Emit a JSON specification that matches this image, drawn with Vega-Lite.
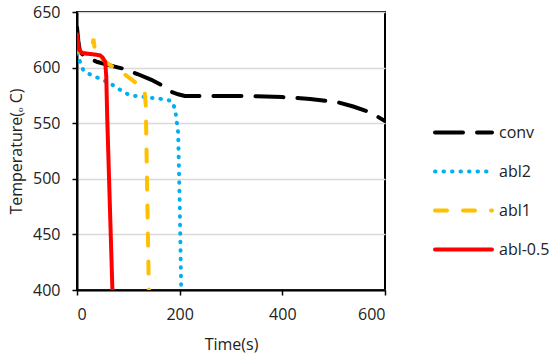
{
  "$schema": "https://vega.github.io/schema/vega-lite/v6.json",
  "width": 308,
  "height": 278,
  "autosize": {"type": "none"},
  "padding": {"left": 77, "top": 12, "right": 164, "bottom": 72},
  "background": "white",
  "config": {
    "font": "Open Sans",
    "view": {"stroke": "black", "strokeWidth": 2},
    "axis": {"labelFont": "Open Sans", "titleFont": "Open Sans", "labelFontSize": 16, "titleFontSize": 16, "titleFontWeight": "normal", "labelColor": "#222", "titleColor": "#222", "domainColor": "black", "domainWidth": 2, "tickColor": "black", "tickWidth": 1.5, "tickSize": 5, "gridColor": "#d9d9d9", "gridWidth": 1.5}
  },
  "data": {"values": [
    {"series": "conv", "t": 0, "T": 636},
    {"series": "conv", "t": 3, "T": 622},
    {"series": "conv", "t": 6, "T": 614},
    {"series": "conv", "t": 15, "T": 610},
    {"series": "conv", "t": 40, "T": 605},
    {"series": "conv", "t": 64, "T": 602},
    {"series": "conv", "t": 90, "T": 599},
    {"series": "conv", "t": 119, "T": 594},
    {"series": "conv", "t": 145, "T": 589},
    {"series": "conv", "t": 170, "T": 583},
    {"series": "conv", "t": 185, "T": 578},
    {"series": "conv", "t": 197, "T": 576},
    {"series": "conv", "t": 210, "T": 574.5},
    {"series": "conv", "t": 300, "T": 574.5},
    {"series": "conv", "t": 350, "T": 574.3},
    {"series": "conv", "t": 400, "T": 573.5},
    {"series": "conv", "t": 454, "T": 571.8},
    {"series": "conv", "t": 509, "T": 568.7},
    {"series": "conv", "t": 538, "T": 565},
    {"series": "conv", "t": 570, "T": 560},
    {"series": "conv", "t": 600, "T": 552},
    {"series": "abl2", "t": 0, "T": 613},
    {"series": "abl2", "t": 6, "T": 605},
    {"series": "abl2", "t": 12, "T": 598},
    {"series": "abl2", "t": 20, "T": 595},
    {"series": "abl2", "t": 40, "T": 591},
    {"series": "abl2", "t": 64, "T": 586},
    {"series": "abl2", "t": 80, "T": 581},
    {"series": "abl2", "t": 103, "T": 575},
    {"series": "abl2", "t": 126, "T": 574},
    {"series": "abl2", "t": 150, "T": 572.5},
    {"series": "abl2", "t": 170, "T": 571.5},
    {"series": "abl2", "t": 184, "T": 570},
    {"series": "abl2", "t": 191, "T": 563},
    {"series": "abl2", "t": 197, "T": 542},
    {"series": "abl2", "t": 200, "T": 480},
    {"series": "abl2", "t": 203, "T": 400},
    {"series": "abl1", "t": 0, "T": 617},
    {"series": "abl1", "t": 5, "T": 614},
    {"series": "abl1", "t": 28, "T": 612},
    {"series": "abl1", "t": 32, "T": 626},
    {"series": "abl1", "t": 36, "T": 612},
    {"series": "abl1", "t": 45, "T": 609},
    {"series": "abl1", "t": 65, "T": 602},
    {"series": "abl1", "t": 87, "T": 596},
    {"series": "abl1", "t": 113, "T": 587},
    {"series": "abl1", "t": 128, "T": 582},
    {"series": "abl1", "t": 132, "T": 578},
    {"series": "abl1", "t": 134, "T": 566},
    {"series": "abl1", "t": 137, "T": 480},
    {"series": "abl1", "t": 140, "T": 400},
    {"series": "abl-0.5", "t": 0, "T": 630},
    {"series": "abl-0.5", "t": 4, "T": 616},
    {"series": "abl-0.5", "t": 10, "T": 613},
    {"series": "abl-0.5", "t": 30, "T": 612},
    {"series": "abl-0.5", "t": 45, "T": 611},
    {"series": "abl-0.5", "t": 50, "T": 609},
    {"series": "abl-0.5", "t": 55, "T": 605},
    {"series": "abl-0.5", "t": 57, "T": 592},
    {"series": "abl-0.5", "t": 59, "T": 553},
    {"series": "abl-0.5", "t": 69, "T": 400}
  ]},
  "mark": {"type": "line", "strokeWidth": 4, "strokeCap": "round", "clip": true},
  "encoding": {
    "x": {"field": "t", "type": "quantitative", "title": "Time(s)",
      "scale": {"domain": [0, 600], "nice": false},
      "axis": {"values": [0, 200, 400, 600], "grid": false, "labelPadding": 11, "titlePadding": 14}},
    "y": {"field": "T", "type": "quantitative", "title": "Temperature(ₒ C)",
      "scale": {"domain": [400, 650], "nice": false, "zero": false},
      "axis": {"values": [400, 450, 500, 550, 600, 650], "labelPadding": 12, "titlePadding": 8}},
    "color": {"field": "series", "type": "nominal", "title": null,
      "scale": {"domain": ["conv", "abl2", "abl1", "abl-0.5"], "range": ["#000000", "#00b0f0", "#ffc000", "#ff0000"]},
      "legend": {"orient": "none", "legendX": 356, "legendY": 90, "symbolType": "stroke", "symbolSize": 3249, "symbolStrokeWidth": 4, "labelFontSize": 16, "labelFont": "Open Sans", "labelColor": "#222", "labelOffset": 5, "rowPadding": -2,
        "encode": {"symbols": {"update": {"strokeCap": {"value": "round"}}}}}},
    "strokeDash": {"field": "series", "type": "nominal", "title": null,
      "scale": {"domain": ["conv", "abl2", "abl1", "abl-0.5"], "range": [[28, 14], [0.5, 8], [12, 16], [1, 0]]}}
  }
}
